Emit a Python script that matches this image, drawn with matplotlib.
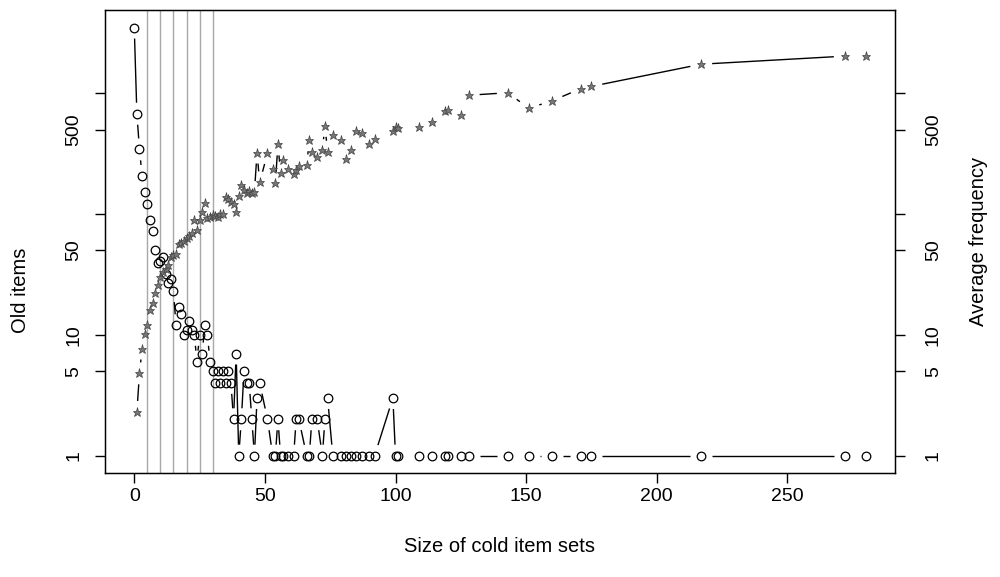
import numpy as np
import matplotlib
matplotlib.use("Agg")
import matplotlib.pyplot as plt
from matplotlib.collections import LineCollection

plt.rcParams['font.family'] = ['Liberation Sans', 'DejaVu Sans']

# size of cold item sets (shared x for both series)
sizes = [0, 1, 2, 3, 4, 5, 6, 7, 8, 9, 10, 11, 12, 13, 14, 15, 16, 17, 18, 19,
         20, 21, 22, 23, 24, 25, 26, 27, 28, 29, 30, 31, 32, 33, 34, 35, 36, 37,
         38, 39, 40, 41, 42, 43, 44, 45, 46, 47, 48, 51, 53, 54, 55, 56, 57, 59,
         61, 62, 63, 66, 67, 68, 70, 72, 73, 74, 76, 79, 81, 83, 85, 87, 90, 92,
         99, 100, 101, 109, 114, 119, 120, 125, 128, 143, 151, 160, 171, 175,
         217, 272, 280]

# circles: number of old items
old_items = [3500, 677, 343, 207, 152, 122, 89, 73, 50, 39, 41, 44, 32, 27, 29,
             23, 12, 17, 15, 10, 11, 13, 11, 10, 6, 10, 7, 12, 10, 6, 5, 4, 5, 4,
             5, 4, 5, 4, 2, 7, 1, 2, 5, 4, 4, 2, 1, 3, 4, 2, 1, 1, 2, 1, 1, 1, 1,
             2, 2, 1, 1, 2, 2, 1, 2, 3, 1, 1, 1, 1, 1, 1, 1, 1, 3, 1, 1, 1, 1, 1,
             1, 1, 1, 1, 1, 1, 1, 1, 1, 1, 1]

# stars: average frequency
avg_freq = [np.nan, 2.3, 4.8, 7.7, 10.2, 12, 16, 18.2, 22, 25.8, 30.3, 33.3, 35,
            37.8, 44, 45.6, 47, 57, 58, 60, 63, 66, 70, 89, 74, 89, 104, 124, 92,
            95, 99, 97, 95, 101, 100, 138, 133, 126, 120, 104, 140, 174, 158, 150,
            155, 148, 152, 323, 183, 318, 235, 180, 377, 220, 278, 235, 214, 232,
            248, 253, 408, 328, 298, 338, 537, 328, 452, 408, 286, 337, 490, 465,
            380, 420, 490, 530, 520, 528, 573, 715, 730, 661, 963, 1010, 752, 866,
            1095, 1140, 1740, 2030, 2050]

guide_x = [5, 10, 15, 20, 25, 30]
x_ticks = [0, 50, 100, 150, 200, 250]
y_ticks = [1, 5, 10, 50, 100, 500, 1000]
y_tick_labels = ['1', '5', '10', '50', '', '500', '']


def gap_segments(ax, x, y, gap=11):
    """Segments between consecutive points, cut back near each point (like R type='b')."""
    pts = ax.transData.transform(np.column_stack([x, y]))
    inv = ax.transData.inverted()
    segs = []
    for (x0, y0), (x1, y1) in zip(pts[:-1], pts[1:]):
        if not np.all(np.isfinite([x0, y0, x1, y1])):
            continue
        d = np.hypot(x1 - x0, y1 - y0)
        if d <= 2 * gap:
            continue
        ux, uy = (x1 - x0) / d, (y1 - y0) / d
        a = (x0 + ux * gap, y0 + uy * gap)
        b = (x1 - ux * gap, y1 - uy * gap)
        segs.append(inv.transform([a, b]))
    return segs


fig = plt.figure(figsize=(10, 5.77), dpi=100)
ax = fig.add_axes([0.105, 0.1802, 0.79, 0.8024])
ax.set_yscale('log')
ax.set_xlim(-11.2, 291.2)
ax.set_ylim(10 ** -0.144, 10 ** 3.689)

for gx in guide_x:
    ax.axvline(gx, color='#a8a8a8', lw=1, zorder=1)

# lines with gaps around the points
ax.add_collection(LineCollection(gap_segments(ax, sizes, old_items), colors='black', lw=1, zorder=2))
ax.add_collection(LineCollection(gap_segments(ax, sizes, avg_freq), colors='black', lw=1, zorder=2))

ax.plot(sizes, old_items, 'o', mfc='none', mec='black', ms=6.2, mew=0.9, zorder=3)
ax.plot(sizes, avg_freq, '*', mfc='#777777', mec='#444444', ms=6.5, mew=0.5, zorder=3)

ax.set_xticks(x_ticks)
ax.set_xticklabels([str(t) for t in x_ticks])
ax.set_yticks(y_ticks)
ax.yaxis.set_minor_locator(plt.NullLocator())
ax.set_yticklabels(y_tick_labels, rotation=90, va='center')
ax.tick_params(axis='both', direction='out', length=7.5, width=1, labelsize=14, colors='black')
ax.tick_params(axis='x', pad=3)
ax.tick_params(axis='y', pad=9)
for sp in ax.spines.values():
    sp.set_linewidth(1)

# right-hand axis, same scale
ax2 = ax.twinx()
ax2.set_yscale('log')
ax2.set_ylim(ax.get_ylim())
ax2.set_yticks(y_ticks)
ax2.yaxis.set_minor_locator(plt.NullLocator())
ax2.set_yticklabels(y_tick_labels, rotation=90, va='center')
ax2.tick_params(axis='y', direction='out', length=7.5, width=1, labelsize=14, pad=14)

ax.set_xlabel('Size of cold item sets', fontsize=14.5, labelpad=23)
fig.text(0.020, 0.497, 'Old items', rotation=90, ha='center', va='center', fontsize=14.5)
fig.text(0.978, 0.5815, 'Average frequency', rotation=90, ha='center', va='center', fontsize=14.5)

fig.savefig('out.png', dpi=100)
